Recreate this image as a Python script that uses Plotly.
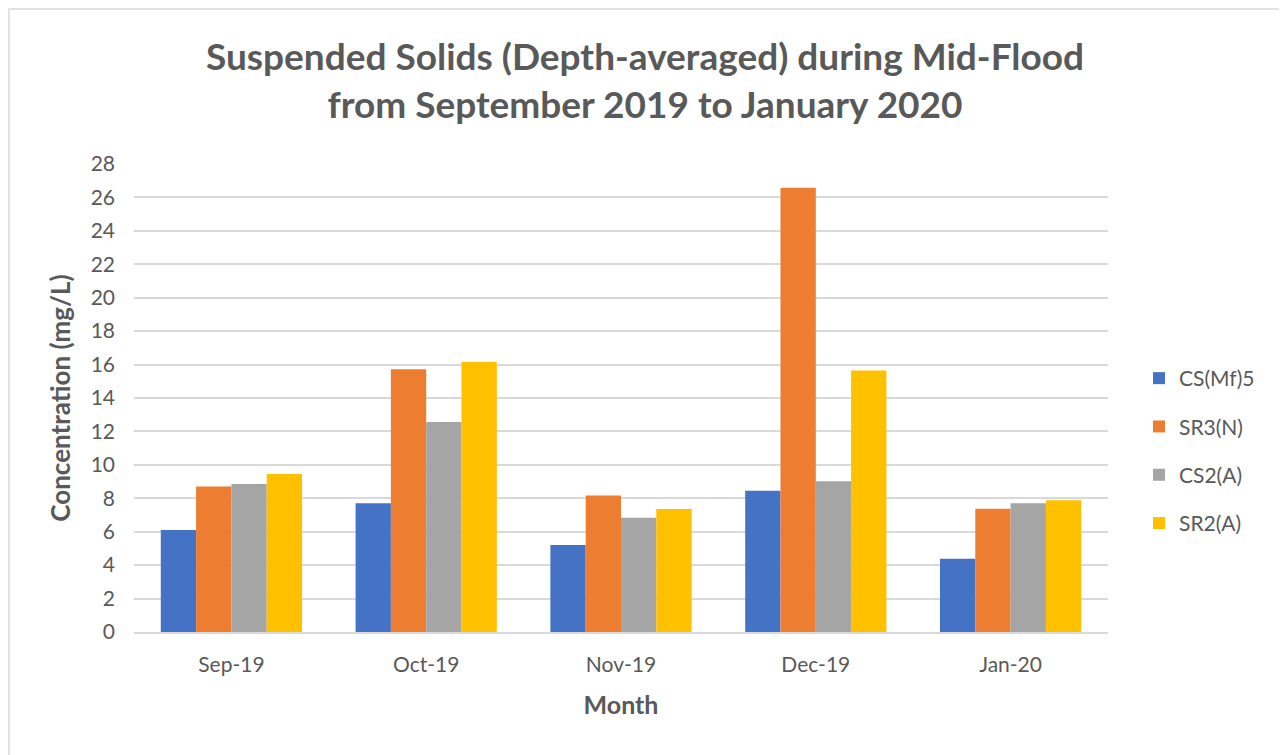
import plotly.graph_objects as go

months = ["Sep-19", "Oct-19", "Nov-19", "Dec-19", "Jan-20"]
series_names = ["CS(Mf)5", "SR3(N)", "CS2(A)", "SR2(A)"]
cs_mf5 = [6.1, 7.7, 5.2, 8.45, 4.38]
sr3_n = [8.7, 15.72, 8.17, 26.58, 7.37]
cs2_a = [8.85, 12.56, 6.84, 9.02, 7.7]
sr2_a = [9.45, 16.15, 7.36, 15.65, 7.88]
y_ticks = list(range(0, 29, 2))

colors = ["#4472C4", "#ED7D31", "#A5A5A5", "#FFC000"]
values = [cs_mf5, sr3_n, cs2_a, sr2_a]

FONT = "Lato"
TXT = "#595959"

fig = go.Figure()
for name, vals, col in zip(series_names, values, colors):
    fig.add_trace(go.Bar(x=months, y=vals, name=name, marker=dict(color=col, line=dict(width=0)),
                         legendgroup=name))

# page has an 8px body margin; work in page pixels and shift
OFF = 8
W, H = 1287 - OFF, 755 - OFF
L, R, T, B = 134 - OFF, 1108 - OFF, 164 - OFF, 632 - OFF
pw, ph = R - L, B - T

def px(x):
    return (x - OFF - L) / pw

def py(y):
    return (B - (y - OFF)) / ph

fig.update_layout(
    width=W, height=H,
    margin=dict(l=L, r=W - R, t=T, b=H - B, autoexpand=False),
    paper_bgcolor="white", plot_bgcolor="white",
    barmode="group", bargap=0.275, bargroupgap=0,
    font=dict(family=FONT, color=TXT, size=21),
    title=dict(text="<b>Suspended Solids (Depth-averaged) during Mid-Flood<br>from September 2019 to January 2020</b>",
               x=(645 - OFF) / W, xanchor="center", y=1 - (70 - OFF) / H, yanchor="middle",
               font=dict(family=FONT, size=37, color=TXT)),
    xaxis=dict(showgrid=False, showline=True, linecolor="#D9D9D9", linewidth=1.5,
               ticks="", tickfont=dict(size=21, color=TXT), ticklabelstandoff=13,
               title=dict(text="<b>Month</b>", font=dict(size=25, color=TXT), standoff=22)),
    yaxis=dict(range=[0, 28], tickvals=y_ticks, showgrid=True, gridcolor="#D9D9D9", gridwidth=1.5,
               zeroline=False, showline=False, ticks="", tickfont=dict(size=21, color=TXT),
               ticklabelstandoff=18,
               title=dict(text="<b>Concentration (mg/L)</b>", font=dict(size=26, color=TXT), standoff=12)),
    legend=dict(x=px(1139), y=py(451), xanchor="left", yanchor="middle",
                font=dict(size=21, color=TXT), tracegroupgap=18, traceorder="grouped",
                itemwidth=30, bgcolor="rgba(0,0,0,0)"),
    showlegend=True,
)

# outer chart border (left/top edges sit at the page's body margin)
fig.add_shape(type="rect", xref="paper", yref="paper",
              x0=-(L - 1) / pw, x1=px(1286), y0=py(770), y1=(B - 1) / ph,
              line=dict(color="#D9D9D9", width=1.5), fillcolor="rgba(0,0,0,0)", layer="below")

fig.write_html("out.html")
